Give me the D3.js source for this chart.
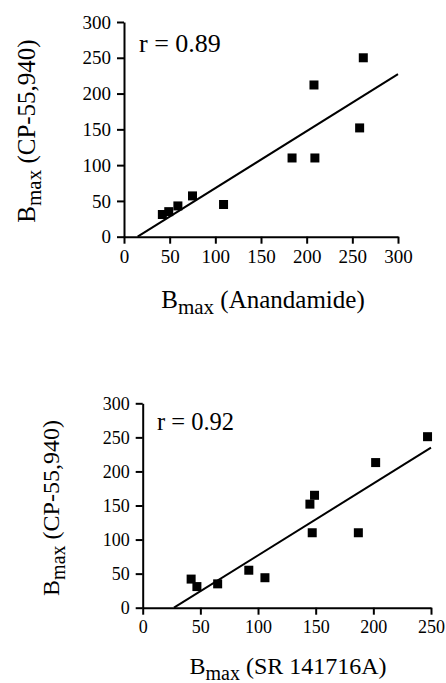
<!DOCTYPE html>
<html>
<head>
<meta charset="utf-8">
<script src="https://cdn.jsdelivr.net/npm/d3@7"></script>
<style>
  html, body { margin: 0; padding: 0; background: #fff; }
  svg { display: block; }
  svg text { font-family: "Liberation Serif", "DejaVu Serif", serif; fill: #000; }
</style>
</head>
<body>
<div id="plot"></div>
<script>
// Top panel: Bmax anandamide vs Bmax CP-55,940
const anandamideX = [42, 49, 59, 75, 109, 184, 209, 208, 258, 262];
const anandamideY = [31, 35, 43, 57, 45, 110, 110, 212, 152, 250];
const anandamideFit = {slope: 0.797, intercept: -11.9};
const anandamideR = 'r = 0.89';
const anandamideTicksX = [0, 50, 100, 150, 200, 250, 300];

// Bottom panel: Bmax SR 141716A vs Bmax CP-55,940
const srX = [42, 47, 65, 92, 106, 145, 149, 147, 187, 202, 247];
const srY = [42, 31, 35, 55, 44, 152, 165, 110, 110, 213, 251];
const srFit = {slope: 1.054, intercept: -28.6};
const srR = 'r = 0.92';
const srTicksX = [0, 50, 100, 150, 200, 250];

const ticksY = [0, 50, 100, 150, 200, 250, 300];

const width = 446;
const height = 683;
const serif = '"Liberation Serif", "DejaVu Serif", serif';

const svg = d3.select('#plot')
    .append('svg')
    .attr('width', width)
    .attr('height', height)
    .attr('font-family', serif);

function drawPanel(opts) {
    const x = d3.scaleLinear().domain([0, opts.xMax]).range([opts.left, opts.right]);
    const y = d3.scaleLinear().domain([0, 300]).range([opts.bottom, opts.top]);
    const g = svg.append('g');

    const xAxis = g.append('g')
        .attr('transform', `translate(0,${opts.bottom})`)
        .call(d3.axisBottom(x).tickValues(opts.ticksX).tickSize(7).tickSizeOuter(0).tickPadding(6));
    const yAxis = g.append('g')
        .attr('transform', `translate(${opts.left},0)`)
        .call(d3.axisLeft(y).tickValues(ticksY).tickSize(7).tickSizeOuter(0).tickPadding(6));

    [xAxis, yAxis].forEach(a => {
        a.attr('font-family', serif).attr('font-size', opts.tickFont);
        a.select('.domain').attr('stroke', '#000').attr('stroke-width', 2);
        a.selectAll('.tick line').attr('stroke', '#000').attr('stroke-width', 2);
        a.selectAll('.tick text').attr('fill', '#000');
    });

    // regression line, from the x intercept to the end of the axis
    const x0 = -opts.fit.intercept / opts.fit.slope;
    const lineData = [x0, opts.xMax].map(v => [v, opts.fit.slope * v + opts.fit.intercept]);
    g.append('path')
        .datum(lineData)
        .attr('fill', 'none')
        .attr('stroke', '#000')
        .attr('stroke-width', 2)
        .attr('d', d3.line().x(d => x(d[0])).y(d => y(d[1])));

    const s = opts.marker;
    g.selectAll('rect.pt')
        .data(opts.xs.map((v, i) => [v, opts.ys[i]]))
        .enter()
        .append('rect')
        .attr('class', 'pt')
        .attr('x', d => x(d[0]) - s / 2)
        .attr('y', d => y(d[1]) - s / 2)
        .attr('width', s)
        .attr('height', s)
        .attr('fill', '#000');

    g.append('text')
        .attr('x', opts.rPos[0])
        .attr('y', opts.rPos[1])
        .attr('font-size', opts.rFont)
        .text(opts.rText);

    // x label with subscript
    const xl = g.append('text')
        .attr('x', opts.xLabelPos[0])
        .attr('y', opts.xLabelPos[1])
        .attr('text-anchor', 'middle')
        .attr('font-size', opts.labelFont);
    xl.append('tspan').text('B');
    xl.append('tspan').attr('font-size', opts.subFont).attr('dy', '0.3em').text('max');
    xl.append('tspan').attr('dy', '-0.25em').text(' ' + opts.xLabel);

    // y label, rotated
    const yl = g.append('text')
        .attr('transform', `translate(${opts.yLabelPos[0]},${opts.yLabelPos[1]}) rotate(-90)`)
        .attr('text-anchor', 'middle')
        .attr('font-size', opts.labelFont);
    yl.append('tspan').text('B');
    yl.append('tspan').attr('font-size', opts.subFont).attr('dy', '0.3em').text('max');
    yl.append('tspan').attr('dy', '-0.25em').text(' (CP-55,940)');
}

drawPanel({
    xs: anandamideX, ys: anandamideY, fit: anandamideFit, rText: anandamideR,
    ticksX: anandamideTicksX, xMax: 300,
    left: 124, right: 398, top: 22, bottom: 236.7,
    tickFont: 19, rFont: 26, labelFont: 25, subFont: 21, marker: 9,
    rPos: [139, 52], xLabel: '(Anandamide)', xLabelPos: [263, 308], yLabelPos: [35, 131]
});

drawPanel({
    xs: srX, ys: srY, fit: srFit, rText: srR,
    ticksX: srTicksX, xMax: 250,
    left: 142.7, right: 431, top: 403.3, bottom: 607.7,
    tickFont: 18, rFont: 24.5, labelFont: 24, subFont: 20, marker: 9,
    rPos: [157, 430], xLabel: '(SR 141716A)', xLabelPos: [288, 674], yLabelPos: [59, 508]
});
</script>
</body>
</html>
